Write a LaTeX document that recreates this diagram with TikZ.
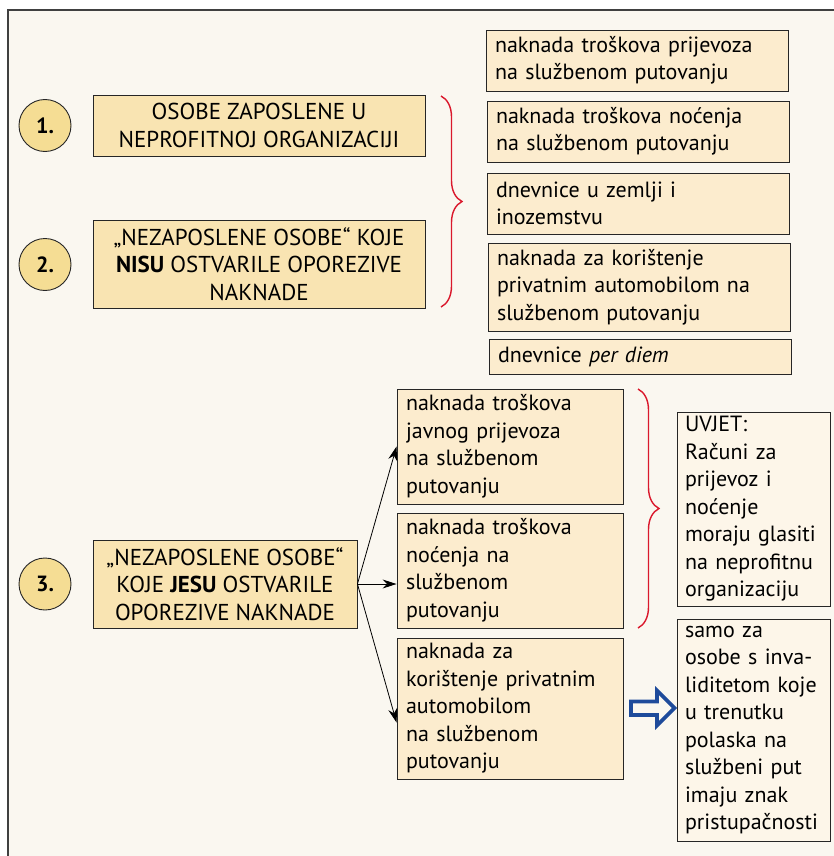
\documentclass[tikz,border=0pt]{standalone}
\usepackage{fontspec}
\setmainfont{PT Sans}
\usetikzlibrary{arrows.meta,calc,decorations.pathreplacing}
\definecolor{pagebg}{RGB}{250,247,240}
\definecolor{boxdark}{RGB}{249,228,178}
\definecolor{boxlight}{RGB}{252,236,206}
\definecolor{notebg}{RGB}{253,246,233}
\definecolor{circfill}{RGB}{245,221,148}
\definecolor{bracered}{RGB}{218,24,44}
\definecolor{arrblue}{RGB}{30,75,155}
\tikzset{
  txt/.style={font=\fontsize{22}{27.5}\selectfont},
  numcirc/.style={circle, draw=black!85, line width=0.9pt, fill=circfill, minimum size=52pt, inner sep=0pt, font=\fontsize{22}{25}\selectfont\bfseries},
  headbox/.style={draw=black!85, line width=0.9pt, fill=boxdark, align=center, inner sep=0pt, font=\fontsize{23}{27.5}\selectfont},
  itembox/.style={draw=black!85, line width=0.9pt, fill=boxlight, align=left, inner xsep=9pt, inner ysep=0pt, txt},
  notebox/.style={draw=black!85, line width=0.9pt, fill=notebg, align=left, inner xsep=8pt, inner ysep=0pt, txt},
  curly/.style={draw=bracered, line width=1.4pt, decorate, decoration={brace, amplitude=21pt}},
  tip/.style={-{Stealth[length=14pt,width=9pt]}, line width=0.8pt},
  bluearr/.style={draw=arrblue, line width=3.6pt, fill=pagebg, line join=miter}
}
\begin{document}
\begin{tikzpicture}[x=1pt, y=-1pt]
\useasboundingbox (0,0) rectangle (834,856);
\draw[fill=pagebg, line width=1.2pt, draw=black!75] (8,10) rectangle (850,870);

% numbers
\node[numcirc] (n1) at (45,125.5) {1.};
\node[numcirc] (n2) at (45,264.5) {2.};
\node[numcirc] (n3) at (45,584) {3.};

% left boxes
\node[headbox, minimum width=332pt, minimum height=61pt] (emp) at (259,125.5) {OSOBE ZAPOSLENE U\\NEPROFITNOJ ORGANIZACIJI};
\node[headbox, minimum width=332pt, minimum height=88pt] (notax) at (259,264) {„NEZAPOSLENE OSOBE“ KOJE\\\textbf{NISU} OSTVARILE OPOREZIVE\\NAKNADE};
\node[headbox, minimum width=264pt, minimum height=88pt] (tax) at (225,584) {„NEZAPOSLENE OSOBE“\\KOJE \textbf{JESU} OSTVARILE\\OPOREZIVE NAKNADE};

% allowances, top
\node[itembox, text width=284pt, minimum height=61pt] (r1) at (637,60.5) {naknada troškova prijevoza\\na službenom putovanju};
\node[itembox, text width=284pt, minimum height=61pt] (r2) at (638,131.5) {naknada troškova noćenja\\na službenom putovanju};
\node[itembox, text width=284pt, minimum height=61pt] (r3) at (638,203.5) {dnevnice u zemlji i\\inozemstvu};
\node[itembox, text width=284pt, minimum height=88pt] (r4) at (639,287) {naknada za korištenje\\privatnim automobilom na\\službenom putovanju};
\node[itembox, text width=284pt, minimum height=35pt] (r5) at (640,356.5) {dnevnice \textit{per diem}};

% allowances, bottom
\node[itembox, text width=208pt, minimum height=115pt] (b1) at (510,446.5) {naknada troškova\\javnog prijevoza\\na službenom\\putovanju};
\node[itembox, text width=208pt, minimum height=115pt] (b2) at (510,570.5) {naknada troškova\\noćenja na\\službenom\\putovanju};
\node[itembox, text width=208pt, minimum height=141pt] (b3) at (510,708.5) {naknada za\\korištenje privatnim\\automobilom\\na službenom\\putovanju};

% notes
\node[notebox, text width=137pt, minimum height=194pt] (cond) at (753.5,509) {UVJET:\\Računi za\\prijevoz i\\noćenje\\moraju glasiti\\na neprofitnu\\organizaciju};
\node[notebox, text width=137pt, minimum height=222pt] (only) at (753.5,730) {samo za\\osobe s inva-\\liditetom koje\\u trenutku\\polaska na\\službeni put\\imaju znak\\pristupačnosti};

% braces
\draw[curly] (441,96) -- (441,307);
\draw[curly] (638,389) -- (638,628);

% arrows
\draw[tip] (tax.east) -- (b1.west);
\draw[tip] (tax.east) -- (tax.east -| b2.west);
\draw[tip] (tax.east) -- ($(b3.west)+(0,14)$);
\draw[bluearr] (631,701.5) -- (657,701.5) -- (657,690.5) -- (674.5,708) -- (657,725.5) -- (657,715) -- (631,715) -- cycle;
\end{tikzpicture}
\end{document}
